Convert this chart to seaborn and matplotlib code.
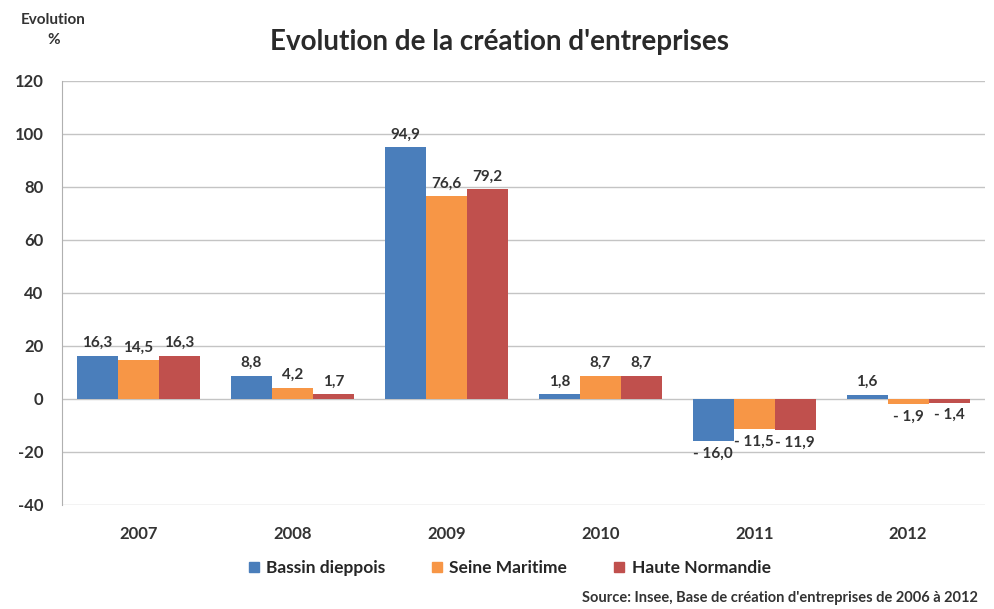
import pandas as pd
import matplotlib.pyplot as plt
import seaborn as sns

# evolution de la creation d'entreprises (%)
years = ['2007', '2008', '2009', '2010', '2011', '2012']
bassin = [16.3, 8.8, 94.9, 1.8, -16.0, 1.6]
seine = [14.5, 4.2, 76.6, 8.7, -11.5, -1.9]
haute = [16.3, 1.7, 79.2, 8.7, -11.9, -1.4]
series_names = ['Bassin dieppois', 'Seine Maritime', 'Haute Normandie']
y_ticks = [-40, -20, 0, 20, 40, 60, 80, 100, 120]

rows = []
for name, vals in zip(series_names, [bassin, seine, haute]):
    for yr, v in zip(years, vals):
        rows.append({'Annee': yr, 'Zone': name, 'Evolution': v})
df = pd.DataFrame(rows)

sns.set_style('white')
plt.rcParams['font.family'] = ['Lato', 'DejaVu Sans']

colors = ['#4A7EBB', '#F79646', '#C0504D']

fig = plt.figure(figsize=(9.94, 6.09), dpi=100)
ax = fig.add_axes([0.062, 0.171, 0.929, 0.696])

sns.barplot(data=df, x='Annee', y='Evolution', hue='Zone', palette=colors,
            width=0.8, ax=ax, legend=False, saturation=1, linewidth=0)

ax.set_ylim(-40, 120)
ax.set_yticks(y_ticks)
ax.set_yticklabels([str(t) for t in y_ticks], fontsize=12, fontweight='bold', color='#333333')
ax.set_xticklabels(years, fontsize=12, fontweight='bold', color='#333333')
ax.tick_params(axis='x', length=0, pad=15)
ax.tick_params(axis='y', length=0, pad=13)
ax.set_xlabel('')
ax.set_ylabel('')
ax.yaxis.grid(True, color='#c4c4c4', linewidth=1)
ax.set_axisbelow(True)
for s in ['top', 'right', 'bottom']:
    ax.spines[s].set_visible(False)
ax.spines['left'].set_color('#b0b0b0')


def fmt(v):
    s = f'{abs(v):.1f}'.replace('.', ',')
    return s if v >= 0 else '- ' + s


for cont, vals in zip(ax.containers, [bassin, seine, haute]):
    ax.bar_label(cont, labels=[fmt(v) for v in vals], padding=4,
                 fontsize=11, fontweight='bold', color='#333333')

fig.text(0.503, 0.918, "Evolution de la création d'entreprises", ha='center',
         fontsize=20, fontweight='bold', color='#2a2a2a')
fig.text(0.054, 0.951, 'Evolution\n%', ha='center', va='center',
         fontsize=11, fontweight='bold', color='#333333', linespacing=1.5)
fig.text(0.984, 0.012, "Source: Insee, Base de création d'entreprises de 2006 à 2012",
         ha='right', fontsize=10.5, fontweight='bold', color='#333333')

handles = [plt.Line2D([], [], marker='s', linestyle='', markersize=7,
                      markerfacecolor=c, markeredgecolor=c) for c in colors]
fig.legend(handles, series_names, loc='center', bbox_to_anchor=(0.51, 0.067),
           ncol=3, frameon=False, handletextpad=0.1, handlelength=1.2,
           columnspacing=2.4, prop={'weight': 'bold', 'size': 12.5})

fig.savefig('out.png', dpi=100)
